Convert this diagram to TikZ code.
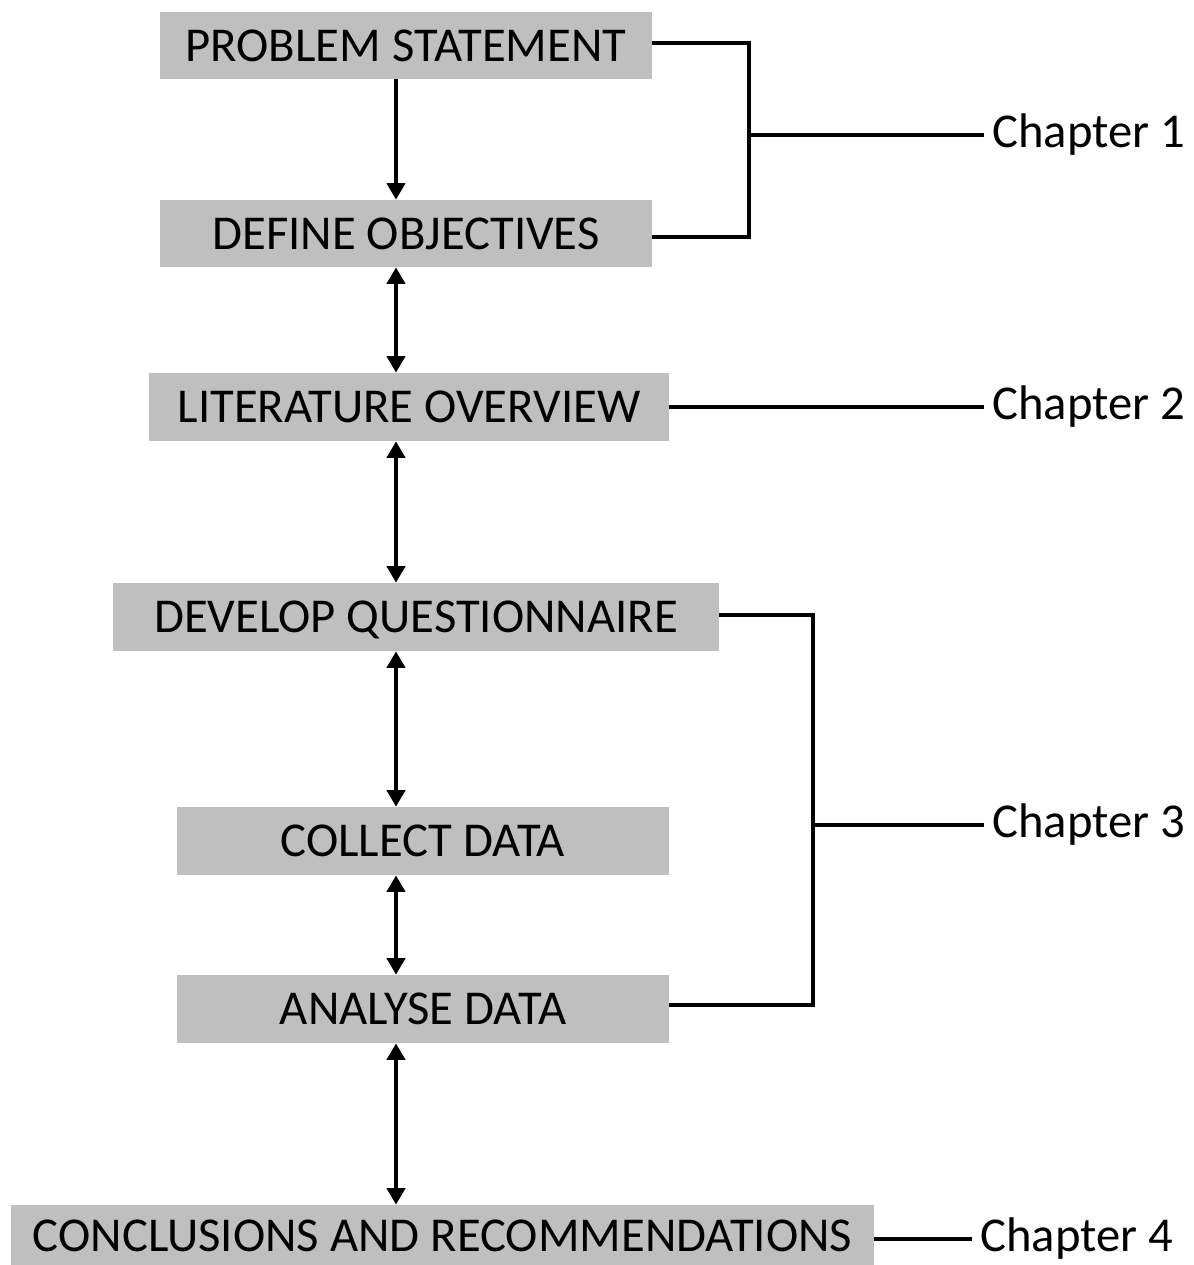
\documentclass[tikz,border=0pt]{standalone}
\usepackage{fontspec}
\setmainfont{Carlito}
\usetikzlibrary{arrows.meta}
\definecolor{boxgray}{RGB}{191,191,191}
\begin{document}
\begin{tikzpicture}[x=0.75pt,y=-0.75pt,
  stage/.style={fill=boxgray, inner sep=0pt, text height=23.5pt, text depth=0pt,
                font=\fontsize{36.5}{44}\selectfont, align=center},
  chap/.style={inner xsep=6pt, inner ysep=0pt, font=\fontsize{36.5}{44}\selectfont, anchor=west},
  flow/.style={line width=3.6pt, -{Triangle[length=12.5pt,width=13.5pt]}},
  flowboth/.style={line width=3.6pt, {Triangle[length=12.5pt,width=13.5pt]}-{Triangle[length=12.5pt,width=13.5pt]}},
  link/.style={line width=3pt}]
\useasboundingbox (0,0) rectangle (1194,1265);
% boxes
\node[stage, minimum width=369pt, minimum height=50.25pt] (ps) at (406,45.5) {PROBLEM STATEMENT};
\node[stage, minimum width=369pt, minimum height=50.25pt] (do) at (406,233.5) {DEFINE OBJECTIVES};
\node[stage, minimum width=390pt, minimum height=51pt] (lit) at (409,407) {LITERATURE OVERVIEW};
\node[stage, minimum width=454.5pt, minimum height=51pt] (dev) at (416,617) {DEVELOP QUESTIONNAIRE};
\node[stage, minimum width=369pt, minimum height=51pt] (col) at (423,841) {COLLECT DATA};
\node[stage, minimum width=369pt, minimum height=51pt] (ana) at (423,1009) {ANALYSE DATA};
\node[stage, minimum width=647.25pt, minimum height=46.5pt] (con) at (442.5,1236) {CONCLUSIONS AND RECOMMENDATIONS};
% chapter labels
\node[chap] (ch1) at (984,135) {Chapter 1};
\node[chap] (ch2) at (984,407) {Chapter 2};
\node[chap] (ch3) at (984,825) {Chapter 3};
\node[chap] (ch4) at (972,1239) {Chapter 4};
% vertical flow arrows
\coordinate (ax) at (396,0);
\draw[flow] (ps.south -| ax) -- (do.north -| ax);
\draw[flowboth] (do.south -| ax) -- (lit.north -| ax);
\draw[flowboth] (lit.south -| ax) -- (dev.north -| ax);
\draw[flowboth] (dev.south -| ax) -- (col.north -| ax);
\draw[flowboth] (col.south -| ax) -- (ana.north -| ax);
\draw[flowboth] (ana.south -| ax) -- (con.north -| ax);
% chapter 1 bracket
\coordinate (b1a) at (749,43);
\coordinate (b1b) at (749,237);
\coordinate (b1m) at (749,135);
\draw[link] (ps.east |- b1a) -- (b1a) -- (b1b) -- (do.east |- b1b);
\draw[link] (b1m) -- (ch1.west);
% chapter 2
\draw[link] (lit.east) -- (ch2.west);
% chapter 3 bracket
\coordinate (b3a) at (813,615);
\coordinate (b3b) at (813,1005);
\coordinate (b3m) at (813,825);
\draw[link] (dev.east |- b3a) -- (b3a) -- (b3b) -- (ana.east |- b3b);
\draw[link] (b3m) -- (ch3.west);
% chapter 4
\draw[link] (con.east |- ch4.west) -- (ch4.west);
\end{tikzpicture}
\end{document}
